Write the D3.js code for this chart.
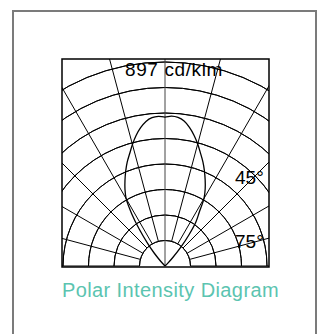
<!DOCTYPE html>
<html>
<head>
<meta charset="utf-8">
<script src="https://cdn.jsdelivr.net/npm/d3@7"></script>
<style>
  html, body { margin: 0; padding: 0; background: #fff; }
  svg { display: block; }
  text { font-family: "Liberation Sans", Arial, Helvetica, sans-serif; }
</style>
</head>
<body>
<svg id="chart" width="321" height="334"></svg>
<script>
// Gamma angles (degrees from nadir) and luminous intensity (cd/klm)
const angles = [0, 2.5, 5, 7.5, 10, 12.5, 15, 17.5, 20, 22.5, 25, 27.5, 30, 32.5, 35, 37.5, 40, 42.5, 45, 47.5, 50, 60, 70, 80, 90];
const intensityRight = [876, 882, 877, 860, 828, 788, 743, 695, 652, 606, 559, 512, 459, 375, 318, 232, 145, 68, 22, 0, 0, 0, 0, 0, 0];
const intensityLeft  = [876, 881, 876, 858, 826, 786, 740, 692, 650, 604, 557, 510, 457, 365, 262, 168, 96, 36, 6, 0, 0, 0, 0, 0, 0];
const ringValues = [150, 300, 450, 600, 750, 900, 1050, 1200];
const spokeAngles = [-90, -75, -60, -45, -30, -15, 15, 30, 45, 60, 75, 90];
const peakLabel = "897 cd/klm";
const angleLabels = ["45°", "75°"];
const title = "Polar Intensity Diagram";

const svg = d3.select("#chart");

// outer panel frame
svg.append("rect")
  .attr("x", 13).attr("y", 11)
  .attr("width", 303).attr("height", 340)
  .attr("fill", "#fff")
  .attr("stroke", "#7b7b7b").attr("stroke-width", 2);

const box = { x: 62, y: 59, w: 207, h: 208 };
const cx = 165, cy = 266;

const r = d3.scaleLinear().domain([0, 1200]).range([0, 204]);

svg.append("clipPath").attr("id", "boxClip")
  .append("rect").attr("x", box.x).attr("y", box.y).attr("width", box.w).attr("height", box.h);

const g = svg.append("g").attr("clip-path", "url(#boxClip)");
const plot = g.append("g").attr("transform", `translate(${cx},${cy})`);

// concentric intensity rings (upper half)
const arc = d3.arc()
  .innerRadius(d => r(d)).outerRadius(d => r(d))
  .startAngle(-Math.PI / 2).endAngle(Math.PI / 2);
plot.selectAll("path.ring").data(ringValues).join("path")
  .attr("class", "ring")
  .attr("d", arc)
  .attr("fill", "none").attr("stroke", "#000").attr("stroke-width", 1);

// angle spokes from the first ring outward
const rad = a => a * Math.PI / 180;
plot.selectAll("line.spoke").data(spokeAngles).join("line")
  .attr("class", "spoke")
  .attr("x1", d => r(ringValues[0]) * Math.sin(rad(d)))
  .attr("y1", d => -r(ringValues[0]) * Math.cos(rad(d)))
  .attr("x2", d => 400 * Math.sin(rad(d)))
  .attr("y2", d => -400 * Math.cos(rad(d)))
  .attr("stroke", "#000").attr("stroke-width", 1);

// nadir axis
plot.append("line")
  .attr("x1", 0).attr("y1", 0).attr("x2", 0).attr("y2", -400)
  .attr("stroke", "#444").attr("stroke-width", 1);

// intensity curve: left half (negative angles) then right half
const pts = [];
for (let i = angles.length - 1; i >= 1; i--) pts.push([-rad(angles[i]), r(intensityLeft[i])]);
pts.push([0, r(intensityRight[0])]);
for (let i = 1; i < angles.length; i++) pts.push([rad(angles[i]), r(intensityRight[i])]);

const line = d3.lineRadial()
  .angle(d => d[0]).radius(d => d[1])
  .curve(d3.curveCatmullRom);
plot.append("path")
  .attr("d", line(pts))
  .attr("fill", "none").attr("stroke", "#000").attr("stroke-width", 1.3);

// chart frame
svg.append("rect")
  .attr("x", box.x).attr("y", box.y).attr("width", box.w).attr("height", box.h)
  .attr("fill", "none").attr("stroke", "#000").attr("stroke-width", 1.5);

// labels
svg.append("text")
  .attr("x", 125).attr("y", 75.7)
  .attr("font-size", 19).attr("letter-spacing", 0.6)
  .attr("fill", "#000")
  .text(peakLabel);

svg.selectAll("text.ang").data(angleLabels).join("text")
  .attr("class", "ang")
  .attr("x", 235)
  .attr("y", (d, i) => [184, 247.5][i])
  .attr("font-size", 19)
  .attr("fill", "#000")
  .text(d => d);

svg.append("text")
  .attr("x", 170.5).attr("y", 297)
  .attr("text-anchor", "middle")
  .attr("font-size", 20).attr("letter-spacing", 0.4)
  .attr("fill", "#5bc4b0")
  .text(title);
</script>
</body>
</html>
